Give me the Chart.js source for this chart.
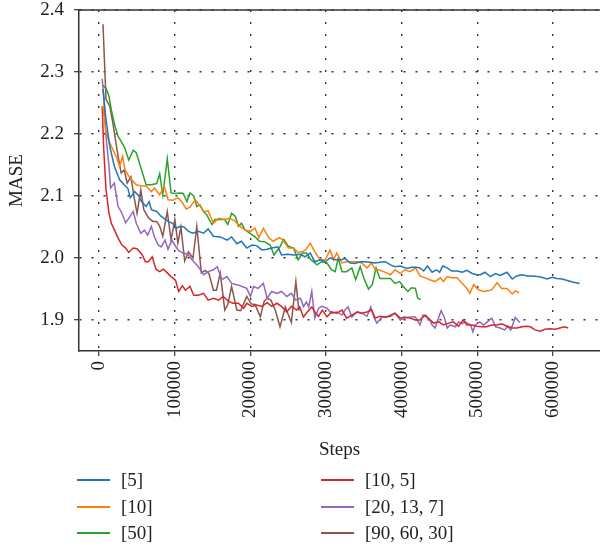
<!DOCTYPE html>
<html>
<head>
<meta charset="utf-8">
<script src="https://cdn.jsdelivr.net/npm/chart.js@4.4.1/dist/chart.umd.min.js"></script>
<style>
  html, body { margin: 0; padding: 0; background: #fff; }
  #wrap { position: relative; width: 600px; height: 548px; }
  #legend { position: absolute; left: 0; top: 0; width: 600px; height: 548px; pointer-events: none;
            font-family: "Liberation Serif", "DejaVu Serif", serif; font-size: 19px; color: #222; }
  .item { position: absolute; height: 22px; line-height: 22px; white-space: nowrap; }
  .item span.ln { position: absolute; left: 0; top: 10px; width: 33px; height: 0; border-top: 2px solid; }
  .item span.tx { position: absolute; left: 44px; top: 0; }
</style>
</head>
<body>
<div id="wrap">
  <canvas id="maseChart" width="600" height="548"></canvas>
  <div id="legend"></div>
</div>
<script>
// tick labels
const xTicks = [0, 100000, 200000, 300000, 400000, 500000, 600000];
const yTicks = [1.9, 2.0, 2.1, 2.2, 2.3, 2.4];

const seriesLabels = ['[5]', '[10]', '[50]', '[10, 5]', '[20, 13, 7]', '[90, 60, 30]'];
const seriesColors = ['#1f77b4', '#ff7f0e', '#2ca02c', '#d62728', '#9467bd', '#8c564b'];

// [5]
const steps5 = [
  5000, 9000, 14000, 20000, 27000, 33000, 38000, 41000, 47000, 52000,
  56000, 62000, 66000, 69000, 76000, 82000, 91000, 97000, 102000, 107000,
  112000, 118000, 124000, 131000, 138000, 144000, 151000, 160000, 169000, 175000,
  182000, 188000, 195000, 202000, 208000, 215000, 222000, 228000, 236000, 241000,
  249000, 257000, 266000, 272000, 279000, 285000, 292000, 299000, 305000, 312000,
  319000, 325000, 332000, 338000, 345000, 351000, 358000, 365000, 371000, 378000,
  385000, 391000, 398000, 407000, 413000, 419000, 424000, 429000, 434000, 440000,
  446000, 450000, 454000, 460000, 466000, 473000, 480000, 486000, 493000, 499000,
  504000, 510000, 517000, 524000, 530000, 539000, 546000, 552000, 559000, 566000,
  572000, 579000, 585000, 592000, 599000, 605000, 612000, 621000, 627000, 635000];
const mase5 = [
  2.272, 2.223, 2.180, 2.148, 2.126, 2.118, 2.112, 2.097, 2.107, 2.101,
  2.091, 2.083, 2.091, 2.078, 2.075, 2.067, 2.059, 2.056, 2.048, 2.051,
  2.050, 2.043, 2.040, 2.043, 2.040, 2.047, 2.035, 2.034, 2.029, 2.034,
  2.023, 2.027, 2.016, 2.021, 2.020, 2.013, 2.014, 2.016, 2.018, 2.005,
  2.006, 2.005, 2.006, 2.002, 2.008, 1.994, 1.997, 1.994, 2.000, 1.997,
  1.997, 1.999, 1.992, 1.991, 1.994, 1.994, 1.993, 1.992, 1.993, 1.994,
  1.989, 1.986, 1.987, 1.983, 1.985, 1.985, 1.984, 1.979, 1.987, 1.977,
  1.981, 1.977, 1.987, 1.984, 1.979, 1.979, 1.977, 1.980, 1.975, 1.973,
  1.973, 1.977, 1.970, 1.975, 1.972, 1.977, 1.966, 1.971, 1.973, 1.971,
  1.971, 1.970, 1.969, 1.966, 1.969, 1.967, 1.966, 1.963, 1.961, 1.959];

// [10]
const steps10 = [
  5000, 9000, 13000, 18000, 23000, 27000, 31000, 34000, 38000, 43000,
  49000, 56000, 62000, 69000, 73000, 80000, 86000, 91000, 97000, 104000,
  109000, 115000, 120000, 127000, 132000, 138000, 144000, 151000, 158000, 165000,
  173000, 180000, 186000, 193000, 200000, 206000, 211000, 217000, 224000, 230000,
  238000, 243000, 250000, 257000, 263000, 268000, 273000, 279000, 285000, 292000,
  299000, 305000, 310000, 314000, 321000, 327000, 334000, 341000, 347000, 354000,
  360000, 365000, 369000, 376000, 385000, 391000, 398000, 404000, 411000, 418000,
  424000, 431000, 437000, 444000, 451000, 455000, 460000, 466000, 473000, 480000,
  486000, 490000, 495000, 501000, 508000, 514000, 519000, 526000, 532000, 539000,
  546000, 550000, 555000];
const mase10 = [
  2.245, 2.202, 2.188, 2.175, 2.162, 2.148, 2.164, 2.143, 2.134, 2.126,
  2.118, 2.116, 2.116, 2.107, 2.113, 2.102, 2.116, 2.094, 2.093, 2.097,
  2.091, 2.079, 2.082, 2.094, 2.086, 2.075, 2.076, 2.056, 2.064, 2.062,
  2.064, 2.059, 2.051, 2.045, 2.043, 2.048, 2.033, 2.048, 2.033, 2.027,
  2.033, 2.029, 2.016, 2.016, 2.009, 2.010, 2.013, 2.024, 2.010, 1.997,
  1.997, 2.013, 1.997, 2.008, 1.992, 1.994, 1.994, 1.994, 1.992, 1.984,
  1.992, 1.981, 1.981, 1.978, 1.973, 1.981, 1.975, 1.981, 1.978, 1.984,
  1.971, 1.968, 1.965, 1.962, 1.968, 1.962, 1.970, 1.968, 1.968, 1.959,
  1.951, 1.943, 1.957, 1.949, 1.946, 1.947, 1.949, 1.960, 1.951, 1.951,
  1.942, 1.947, 1.944];

// [50]
const steps50 = [
  5000, 9000, 13000, 16000, 21000, 25000, 29000, 34000, 39000, 45000,
  49000, 56000, 62000, 69000, 76000, 80000, 84000, 90000, 95000, 101000,
  107000, 111000, 116000, 120000, 125000, 129000, 133000, 138000, 142000, 149000,
  153000, 160000, 166000, 170000, 175000, 180000, 184000, 188000, 193000, 199000,
  206000, 212000, 219000, 226000, 231000, 238000, 244000, 250000, 257000, 263000,
  269000, 274000, 280000, 288000, 294000, 301000, 307000, 312000, 316000, 321000,
  327000, 334000, 339000, 345000, 350000, 356000, 361000, 366000, 371000, 378000,
  385000, 391000, 397000, 402000, 408000, 413000, 418000, 421000, 425000];
const mase50 = [
  2.278, 2.274, 2.261, 2.239, 2.212, 2.196, 2.188, 2.177, 2.158, 2.174,
  2.170, 2.142, 2.118, 2.118, 2.120, 2.136, 2.102, 2.160, 2.105, 2.104,
  2.105, 2.104, 2.091, 2.105, 2.100, 2.083, 2.086, 2.075, 2.070, 2.054,
  2.062, 2.062, 2.062, 2.054, 2.072, 2.067, 2.051, 2.056, 2.045, 2.040,
  2.034, 2.027, 2.026, 2.021, 2.005, 2.016, 2.030, 2.019, 2.016, 1.997,
  2.008, 2.008, 1.997, 1.989, 1.994, 1.992, 1.981, 1.978, 2.000, 1.978,
  1.978, 1.984, 1.965, 1.986, 1.967, 1.950, 1.957, 1.984, 1.967, 1.967,
  1.967, 1.959, 1.962, 1.954, 1.946, 1.952, 1.951, 1.935, 1.933];

// [10, 5]
const steps10_5 = [
  4000, 6000, 9000, 13000, 16000, 21000, 25000, 30000, 35000, 39000,
  45000, 50000, 57000, 61000, 65000, 70000, 75000, 80000, 85000, 90000,
  95000, 101000, 105000, 110000, 114000, 120000, 125000, 131000, 138000, 144000,
  151000, 158000, 164000, 171000, 177000, 184000, 191000, 195000, 202000, 208000,
  215000, 222000, 228000, 235000, 241000, 248000, 254000, 261000, 265000, 270000,
  275000, 281000, 286000, 290000, 295000, 301000, 307000, 314000, 321000, 327000,
  334000, 341000, 347000, 354000, 360000, 365000, 371000, 378000, 385000, 391000,
  398000, 404000, 411000, 418000, 424000, 431000, 436000, 442000, 449000, 455000,
  462000, 468000, 475000, 481000, 486000, 493000, 499000, 506000, 512000, 519000,
  526000, 532000, 539000, 546000, 552000, 559000, 565000, 570000, 576000, 583000,
  589000, 596000, 603000, 609000, 615000, 620000];
const mase10_5 = [
  2.245, 2.175, 2.110, 2.072, 2.056, 2.043, 2.032, 2.021, 2.016, 2.009,
  2.016, 2.015, 2.005, 1.994, 1.994, 2.002, 1.982, 1.978, 1.982, 1.976,
  1.970, 1.964, 1.946, 1.955, 1.948, 1.954, 1.940, 1.940, 1.943, 1.932,
  1.935, 1.932, 1.938, 1.930, 1.927, 1.927, 1.919, 1.927, 1.922, 1.924,
  1.922, 1.928, 1.922, 1.927, 1.922, 1.913, 1.922, 1.916, 1.921, 1.905,
  1.913, 1.921, 1.911, 1.906, 1.916, 1.905, 1.913, 1.911, 1.916, 1.903,
  1.908, 1.913, 1.911, 1.913, 1.916, 1.903, 1.906, 1.905, 1.906, 1.911,
  1.903, 1.905, 1.903, 1.900, 1.900, 1.908, 1.902, 1.895, 1.897, 1.892,
  1.895, 1.897, 1.890, 1.900, 1.892, 1.892, 1.890, 1.889, 1.889, 1.892,
  1.892, 1.894, 1.890, 1.887, 1.887, 1.889, 1.890, 1.889, 1.884, 1.882,
  1.885, 1.886, 1.885, 1.887, 1.889, 1.887];

// [20, 13, 7]
const steps20_13_7 = [
  4000, 6000, 9000, 13000, 15000, 20000, 25000, 29000, 35000, 39000,
  45000, 49000, 55000, 60000, 64000, 69000, 73000, 78000, 82000, 87000,
  91000, 96000, 101000, 105000, 111000, 117000, 125000, 131000, 138000, 144000,
  151000, 156000, 162000, 169000, 175000, 182000, 189000, 195000, 200000, 204000,
  210000, 217000, 222000, 228000, 235000, 241000, 248000, 254000, 260000, 266000,
  270000, 274000, 277000, 281000, 285000, 290000, 294000, 301000, 307000, 314000,
  321000, 325000, 329000, 334000, 341000, 347000, 354000, 359000, 363000, 367000,
  374000, 380000, 385000, 391000, 398000, 404000, 411000, 418000, 424000, 428000,
  431000, 437000, 440000, 444000, 449000, 452000, 456000, 460000, 464000, 471000,
  475000, 480000, 484000, 491000, 494000, 497000, 503000, 508000, 513000, 519000,
  524000, 530000, 536000, 540000, 544000, 550000, 556000];
const mase20_13_7 = [
  2.289, 2.261, 2.196, 2.148, 2.113, 2.121, 2.083, 2.075, 2.057, 2.064,
  2.075, 2.056, 2.040, 2.045, 2.037, 2.051, 2.034, 2.021, 2.018, 2.029,
  2.014, 2.029, 2.019, 2.012, 2.008, 2.006, 1.994, 1.986, 1.973, 1.978,
  1.981, 1.986, 1.965, 1.970, 1.959, 1.957, 1.954, 1.951, 1.938, 1.954,
  1.951, 1.959, 1.935, 1.946, 1.943, 1.946, 1.938, 1.943, 1.932, 1.935,
  1.922, 1.929, 1.921, 1.946, 1.903, 1.919, 1.922, 1.919, 1.911, 1.913,
  1.908, 1.916, 1.921, 1.905, 1.913, 1.911, 1.906, 1.921, 1.905, 1.895,
  1.905, 1.905, 1.908, 1.911, 1.900, 1.903, 1.905, 1.905, 1.892, 1.908,
  1.906, 1.900, 1.892, 1.887, 1.905, 1.915, 1.905, 1.887, 1.892, 1.889,
  1.897, 1.894, 1.897, 1.892, 1.881, 1.892, 1.897, 1.892, 1.897, 1.903,
  1.889, 1.887, 1.884, 1.890, 1.884, 1.904, 1.896];

// [90, 60, 30]
const steps90_60_30 = [
  5000, 9000, 14000, 18000, 25000, 29000, 33000, 37000, 42000, 46000,
  50000, 55000, 59000, 65000, 71000, 76000, 80000, 84000, 90000, 95000,
  100000, 104000, 108000, 113000, 118000, 124000, 129000, 135000, 140000, 145000,
  151000, 155000, 160000, 166000, 170000, 175000, 182000, 187000, 195000, 201000,
  206000, 213000, 218000, 222000, 227000, 233000, 239000, 246000, 254000, 260000,
  264000];
const mase90_60_30 = [
  2.377, 2.256, 2.245, 2.218, 2.164, 2.137, 2.142, 2.121, 2.131, 2.099,
  2.072, 2.110, 2.078, 2.065, 2.059, 2.059, 2.051, 2.035, 2.075, 2.029,
  2.062, 2.024, 2.050, 1.995, 2.010, 2.000, 2.051, 1.976, 1.980, 1.975,
  1.948, 1.948, 1.976, 1.916, 1.925, 1.954, 1.916, 1.915, 1.938, 1.926,
  1.925, 1.905, 1.930, 1.935, 1.932, 1.915, 1.889, 1.921, 1.896, 1.962,
  1.915];

const allSteps = [steps5, steps10, steps50, steps10_5, steps20_13_7, steps90_60_30];
const allMase = [mase5, mase10, mase50, mase10_5, mase20_13_7, mase90_60_30];

const datasets = seriesLabels.map((label, i) => ({
  label: label,
  data: allSteps[i].map((s, j) => ({ x: s, y: allMase[i][j] })),
  borderColor: seriesColors[i],
  backgroundColor: seriesColors[i],
  borderWidth: 1.5,
  pointRadius: 0,
  tension: 0,
  fill: false
}));

const serif = '"Liberation Serif", "DejaVu Serif", serif';
const textColor = '#222';

// solid top spine
const topSpine = {
  id: 'topSpine',
  afterDraw(chart) {
    const { ctx, chartArea } = chart;
    ctx.save();
    ctx.strokeStyle = '#333';
    ctx.lineWidth = 1.5;
    ctx.beginPath();
    ctx.moveTo(chartArea.left, chartArea.top);
    ctx.lineTo(chartArea.right, chartArea.top);
    ctx.stroke();
    ctx.restore();
  }
};

const ctx = document.getElementById('maseChart').getContext('2d');
const myChart = new Chart(ctx, {
  type: 'line',
  data: { datasets: datasets },
  plugins: [topSpine],
  options: {
    responsive: false,
    animation: false,
    layout: { padding: { top: 10, right: 0, bottom: 87, left: 0 } },
    plugins: {
      legend: { display: false },
      tooltip: { enabled: false }
    },
    scales: {
      x: {
        type: 'linear',
        min: -26700,
        max: 662000,
        afterBuildTicks: (scale) => { scale.ticks = xTicks.map(v => ({ value: v })); },
        afterFit: (scale) => { scale.height = 110; scale.paddingLeft = 0; scale.paddingRight = 0; },
        ticks: {
          autoSkip: false,
          maxRotation: 90,
          minRotation: 90,
          padding: 5,
          color: textColor,
          font: { family: serif, size: 19 },
          callback: (v) => String(v)
        },
        grid: {
          color: '#333',
          lineWidth: 1.4,
          tickLength: 5,
          tickColor: '#333',
          tickWidth: 1.2
        },
        border: { display: true, color: '#333', width: 1.5, dash: [2, 10] },
        title: {
          display: true,
          text: 'Steps',
          color: textColor,
          font: { family: serif, size: 19 },
          padding: 0
        }
      },
      y: {
        min: 1.85,
        max: 2.4,
        afterBuildTicks: (scale) => { scale.ticks = yTicks.map(v => ({ value: v })); },
        afterFit: (scale) => { scale.width = 79; scale.paddingTop = 0; scale.paddingBottom = 0; },
        ticks: {
          padding: 10,
          color: textColor,
          font: { family: serif, size: 19 },
          callback: (v) => Number(v).toFixed(1)
        },
        grid: {
          color: '#333',
          lineWidth: 1.4,
          tickLength: 5,
          tickColor: '#333',
          tickWidth: 1.2
        },
        border: { display: true, color: '#333', width: 1.5, dash: [2, 10] },
        title: {
          display: true,
          text: 'MASE',
          color: textColor,
          font: { family: serif, size: 19 },
          padding: { top: 6, bottom: 0 }
        }
      }
    }
  }
});

// two-column legend under the chart
const legendPos = [
  [77, 480], [77, 506.5], [77, 533],
  [321, 480], [321, 506.5], [321, 533]
];
const legendEl = document.getElementById('legend');
seriesLabels.forEach((label, i) => {
  const item = document.createElement('div');
  item.className = 'item';
  item.style.left = legendPos[i][0] + 'px';
  item.style.top = (legendPos[i][1] - 11) + 'px';
  const ln = document.createElement('span');
  ln.className = 'ln';
  ln.style.borderColor = seriesColors[i];
  const tx = document.createElement('span');
  tx.className = 'tx';
  tx.textContent = label;
  item.appendChild(ln);
  item.appendChild(tx);
  legendEl.appendChild(item);
});
</script>
</body>
</html>
